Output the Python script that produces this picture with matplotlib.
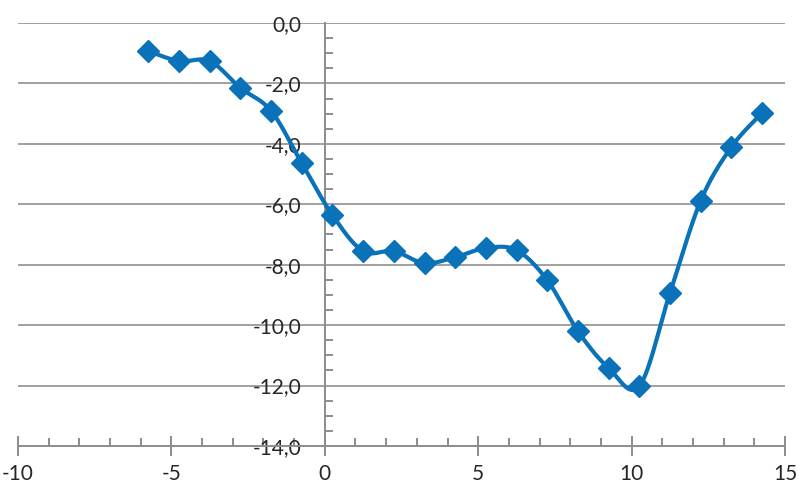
import numpy as np
import matplotlib.pyplot as plt
from matplotlib.ticker import MultipleLocator, FuncFormatter

plt.rcParams['font.family'] = ['Lato', 'DejaVu Sans']

# data
x_vals = [-5.75, -4.75, -3.75, -2.75, -1.75, -0.75, 0.25, 1.25, 2.25, 3.25, 4.25,
          5.25, 6.25, 7.25, 8.25, 9.25, 10.25, 11.25, 12.25, 13.25, 14.25]
y_vals = [-0.93, -1.26, -1.26, -2.15, -2.91, -4.64, -6.36, -7.55, -7.55, -7.95, -7.75,
          -7.45, -7.52, -8.51, -10.2, -11.42, -12.02, -8.94, -5.89, -4.11, -2.98]

blue = '#0a72b8'
gray = '#a0a0a0'


# smooth curve through the points (bezier, like a spreadsheet "smoothed line")
def smooth(xs, ys, n=30):
    pts = np.column_stack([xs, ys])
    out = []
    for i in range(len(pts) - 1):
        p0 = pts[i - 1] if i > 0 else pts[i]
        p1 = pts[i]
        p2 = pts[i + 1]
        p3 = pts[i + 2] if i + 2 < len(pts) else pts[i + 1]
        c1 = p1 + (p2 - p0) / 6
        c2 = p2 - (p3 - p1) / 6
        t = np.linspace(0, 1, n)[:, None]
        seg = ((1 - t) ** 3) * p1 + 3 * ((1 - t) ** 2) * t * c1 + 3 * (1 - t) * t ** 2 * c2 + t ** 3 * p2
        out.append(seg)
    out = np.vstack(out)
    return out[:, 0], out[:, 1]


fig = plt.figure(figsize=(7.98, 4.86), dpi=100)
ax = fig.add_axes([18 / 798, 40 / 486, 767 / 798, 423 / 486])

ax.set_xlim(-10, 15)
ax.set_ylim(-14, 0)

for yy in np.arange(-12, 0.1, 2):
    ax.axhline(yy, color=gray, lw=1.4, zorder=1)

sx, sy = smooth(x_vals, y_vals)
ax.plot(sx, sy, color=blue, lw=3, zorder=3, solid_capstyle='round')
ax.plot(x_vals, y_vals, ls='none', marker='D', ms=11.5, color=blue, zorder=4)

ax.spines['top'].set_visible(False)
ax.spines['right'].set_visible(False)
ax.spines['left'].set_position(('data', 0))
for s in ('left', 'bottom'):
    ax.spines[s].set_color('#8c8c8c')
    ax.spines[s].set_linewidth(1.4)

ax.xaxis.set_major_locator(MultipleLocator(5))
ax.xaxis.set_minor_locator(MultipleLocator(1))
ax.yaxis.set_major_locator(MultipleLocator(2))
ax.yaxis.set_minor_locator(MultipleLocator(0.5))

ax.yaxis.set_major_formatter(FuncFormatter(lambda v, p: ('%.1f' % v).replace('.', ',').replace('-0,0', '0,0')))
ax.xaxis.set_major_formatter(FuncFormatter(lambda v, p: '%d' % v))

ax.tick_params(axis='x', which='major', direction='inout', length=14, width=1.4,
               color='#8c8c8c', labelsize=15, labelcolor='#262626', pad=6)
ax.tick_params(axis='x', which='minor', direction='in', length=6, width=1.4, color='#8c8c8c')
ax.tick_params(axis='y', which='major', length=0, labelsize=15, labelcolor='#262626', pad=17)
ax.tick_params(axis='y', which='minor', direction='in', length=6, width=1.4, color='#8c8c8c')

for lab in ax.get_xticklabels():
    lab.set_clip_on(False)

fig.savefig('out.png', dpi=100)
